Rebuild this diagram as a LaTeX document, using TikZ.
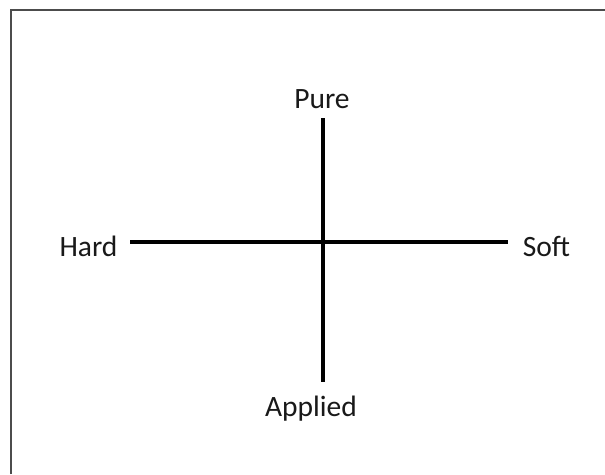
\documentclass[tikz,border=0pt]{standalone}
\usepackage{fontspec}
\setmainfont{Carlito}
\usetikzlibrary{positioning}

\begin{document}
\begin{tikzpicture}[
    x=1pt, y=-1pt,
    font=\fontsize{29.5}{34}\selectfont,
    axislabel/.style={inner sep=0pt, text=black!90},
    axisline/.style={line width=3.2pt, black},
    framestyle/.style={line width=2pt, black!70}
]
\useasboundingbox (0,0) rectangle (605,474);

% frame (only left and top edges are visible)
\draw[framestyle] (11,474) -- (11,9.5) -- (605,9.5);

\node[axislabel] (pure) at (322,99) {Pure};
\node[axislabel] (applied) at (311,409) {Applied};
\node[axislabel] (hard) at (88.5,246) {Hard};
\node[axislabel] (soft) at (546.5,246) {Soft};

\coordinate (top) at (323,118);
\coordinate (bottom) at (323,382);
\coordinate (left) at (130,242);
\coordinate (right) at (508,242);

\draw[axisline] (top) -- (bottom);
\draw[axisline] (left) -- (right);

\end{tikzpicture}
\end{document}
